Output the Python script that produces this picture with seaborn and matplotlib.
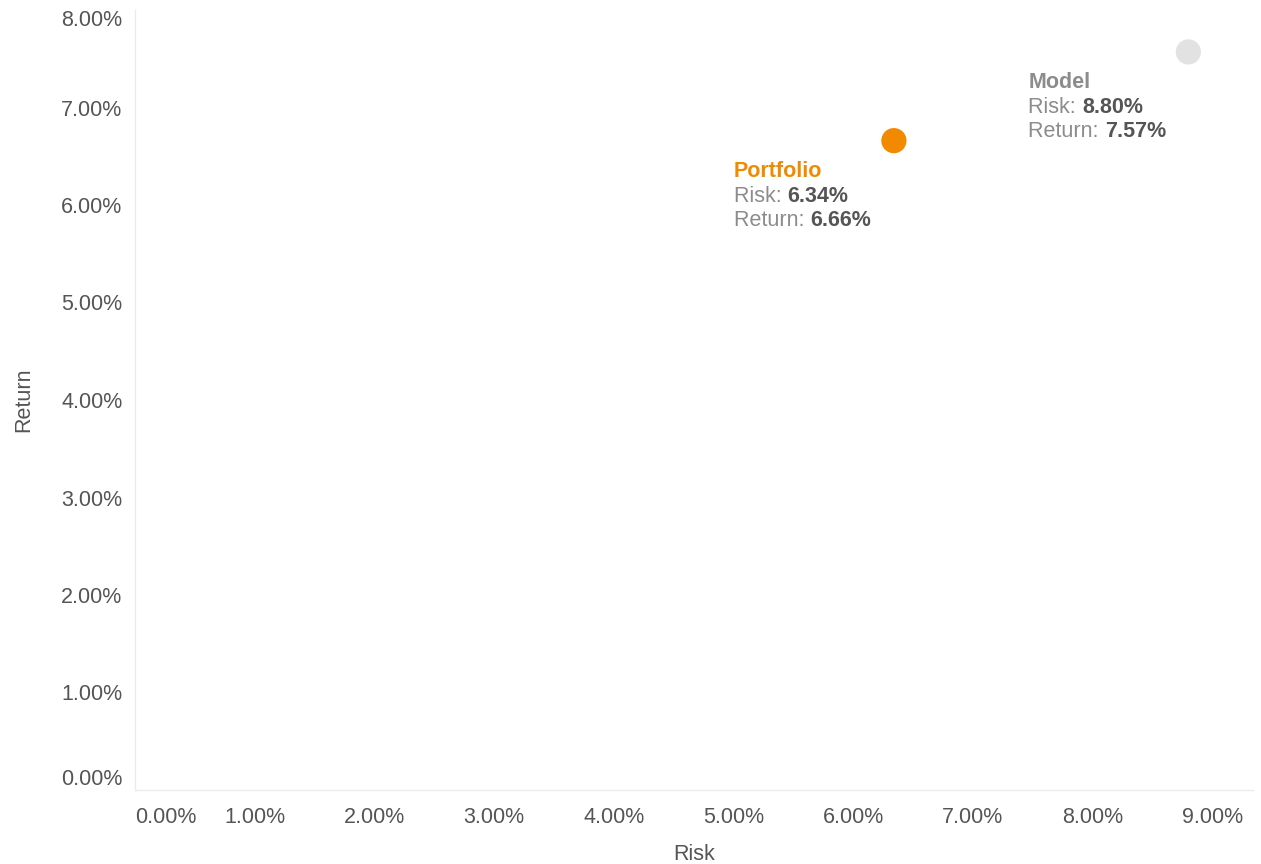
import matplotlib
matplotlib.use("Agg")
import matplotlib.pyplot as plt
from matplotlib.ticker import FuncFormatter
import seaborn as sns
import pandas as pd

# Risk / return of each allocation, in percent
names = ["Portfolio", "Model"]
risk = [6.34, 8.80]
ret = [6.66, 7.57]
x_ticks = [0, 1, 2, 3, 4, 5, 6, 7, 8, 9]
y_ticks = [0, 1, 2, 3, 4, 5, 6, 7, 8]

point_colors = {"Portfolio": "#F28A00", "Model": "#E2E2E2"}
title_colors = {"Portfolio": "#F28A00", "Model": "#8C8C8C"}

sns.set_theme(style="white")
plt.rcParams["font.family"] = ["Liberation Sans", "DejaVu Sans"]

df = pd.DataFrame({"name": names, "risk": risk, "ret": ret})

W, H = 1261, 864
fig = plt.figure(figsize=(W / 100, H / 100), dpi=100)
ax = fig.add_axes([135 / W, (H - 790) / H, (1253 - 135) / W, (790 - 10) / H])

sns.scatterplot(data=df, x="risk", y="ret", hue="name", palette=point_colors,
                s=330, linewidth=0, legend=False, ax=ax, zorder=3, clip_on=False)

ax.set_xlim(0, 9.34)
ax.set_ylim(0, 8.0)
ax.set_xticks(x_ticks)
ax.set_yticks(y_ticks)
pct = FuncFormatter(lambda v, _: f"{v:.2f}%")
ax.xaxis.set_major_formatter(pct)
ax.yaxis.set_major_formatter(pct)

spine_col = "#EBEBEB"
for side in ["top", "right"]:
    ax.spines[side].set_visible(False)
for side in ["left", "bottom"]:
    ax.spines[side].set_color(spine_col)
    ax.spines[side].set_linewidth(1.0)

ax.tick_params(axis="both", which="major", direction="out", length=6,
               width=1, color=spine_col, labelcolor="#555555", labelsize=15.5)
ax.tick_params(axis="y", pad=3)
ax.tick_params(axis="x", pad=6)
ax.grid(False)

# keep edge tick labels inside the frame
xl = ax.get_xticklabels()
xl[0].set_horizontalalignment("left")
yl = ax.get_yticklabels()
yl[0].set_verticalalignment("bottom")
yl[-1].set_verticalalignment("top")

ax.set_xlabel("Risk", fontsize=15.5, color="#555555")
ax.set_ylabel("Return", fontsize=15.5, color="#555555")
ax.xaxis.set_label_coords(0.5, -(844 - 790) / 780)
ax.yaxis.set_label_coords(-(135 - 34) / 1118, 0.5)

# annotation blocks beside each point
fs = 15.5
line_px = 24.5
for n, xv, yv in zip(names, risk, ret):
    x_off = -160 * 72 / 100
    y0 = -31 * 72 / 100
    ax.annotate(n, xy=(xv, yv), xytext=(x_off, y0), textcoords="offset points",
                ha="left", va="center", fontsize=fs, fontweight="bold",
                color=title_colors[n])
    for i, (lab, val) in enumerate([("Risk: ", xv), ("Return: ", yv)]):
        yo = y0 - (i + 1) * line_px * 72 / 100
        t = ax.annotate(lab, xy=(xv, yv), xytext=(x_off, yo), textcoords="offset points",
                        ha="left", va="center", fontsize=fs, color="#8C8C8C")
        ax.annotate(f"{val:.2f}%", xy=(1, 0.5), xycoords=t, ha="left", va="center",
                    fontsize=fs, fontweight="bold", color="#555555")

fig.savefig("out.png", dpi=100)
